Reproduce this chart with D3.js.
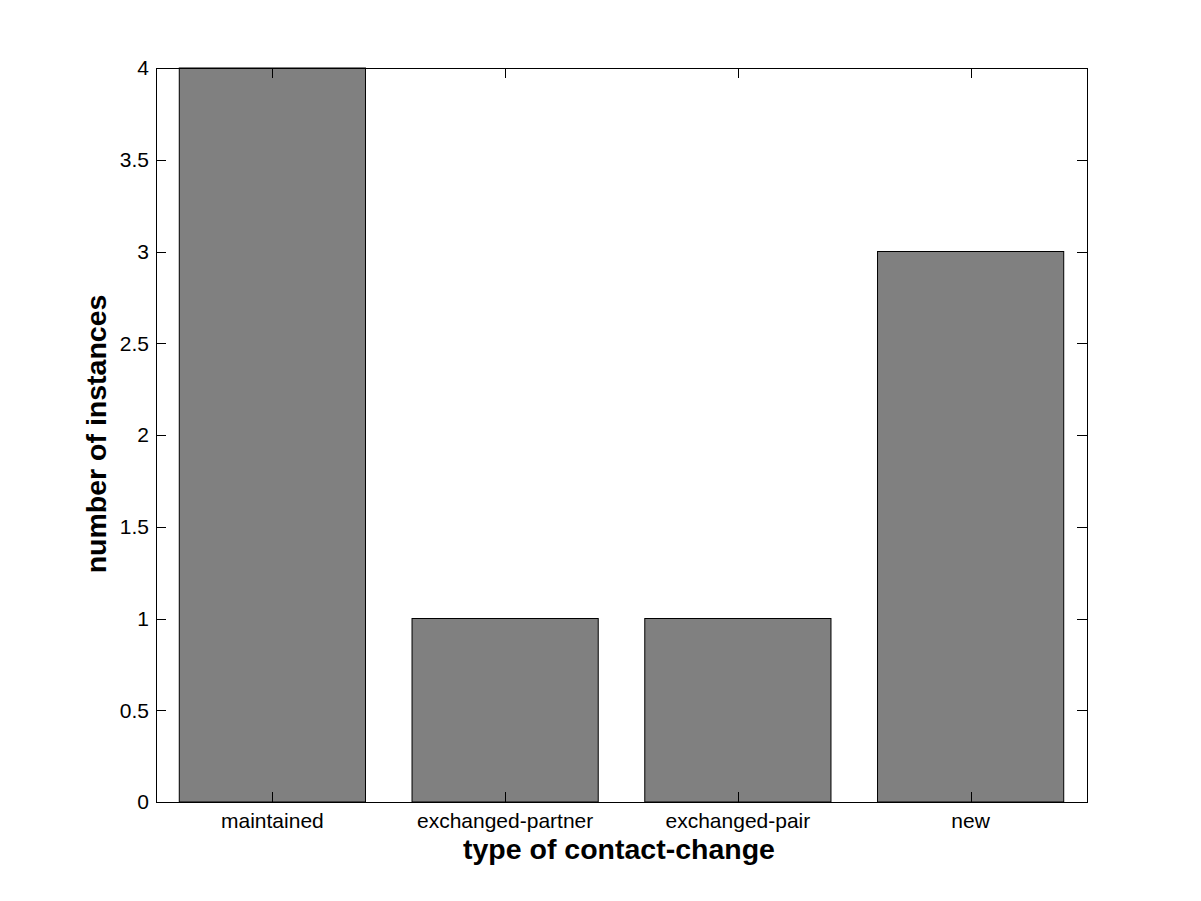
<!DOCTYPE html>
<html><head><meta charset="utf-8">
<script src="https://cdn.jsdelivr.net/npm/d3@7"></script>
<style>body{margin:0;background:#fff}svg{display:block}text{font-family:"Liberation Sans",Arial,sans-serif}</style>
</head><body>
<script>
const categories = ["maintained","exchanged-partner","exchanged-pair","new"];
const values = [4,1,1,3];
const yTicks = [0,0.5,1,1.5,2,2.5,3,3.5,4];
const xLabel = "type of contact-change";
const yLabel = "number of instances";

const W=1201,H=901, L=156,R=1087,T=68,B=802;
const svg=d3.select("body").append("svg").attr("width",W).attr("height",H);
const x=d3.scaleLinear().domain([0.5,categories.length+0.5]).range([L,R]);
const y=d3.scaleLinear().domain([0,4]).range([B,T]);
const bw=(x(1)-x(0))*0.8;

svg.append("g").selectAll("rect").data(values).join("rect")
  .attr("x",(d,i)=>x(i+1)-bw/2).attr("y",d=>y(d))
  .attr("width",bw).attr("height",d=>y(0)-y(d))
  .attr("fill","#808080").attr("stroke","#000").attr("stroke-width",1);

const tl=10;
const ax=svg.append("g").attr("stroke","#000").attr("stroke-width",1).attr("fill","none").attr("shape-rendering","crispEdges");
ax.append("rect").attr("x",L+0.5).attr("y",T+0.5).attr("width",R-L).attr("height",B-T);
yTicks.forEach(t=>{
  const yy=Math.round(y(t))+0.5;
  ax.append("line").attr("x1",L).attr("x2",L+tl).attr("y1",yy).attr("y2",yy);
  ax.append("line").attr("x1",R-tl).attr("x2",R).attr("y1",yy).attr("y2",yy);
});
categories.forEach((c,i)=>{
  const xx=Math.round(x(i+1))+0.5;
  ax.append("line").attr("x1",xx).attr("x2",xx).attr("y1",B-tl).attr("y2",B);
  ax.append("line").attr("x1",xx).attr("x2",xx).attr("y1",T).attr("y2",T+tl);
});
svg.append("g").selectAll("text").data(yTicks).join("text")
  .attr("x",L-7).attr("y",d=>y(d)).attr("dy","0.35em").attr("text-anchor","end")
  .attr("font-size",21).text(d=>d);
svg.append("g").selectAll("text").data(categories).join("text")
  .attr("x",(d,i)=>x(i+1)).attr("y",B+26).attr("text-anchor","middle")
  .attr("font-size",21).text(d=>d);
svg.append("text").attr("x",619).attr("y",859).attr("text-anchor","middle")
  .attr("font-size",28.5).attr("font-weight","bold").text(xLabel);
svg.append("text").attr("transform",`translate(106,434) rotate(-90)`).attr("text-anchor","middle")
  .attr("font-size",28.5).attr("font-weight","bold").text(yLabel);
</script>
</body></html>
